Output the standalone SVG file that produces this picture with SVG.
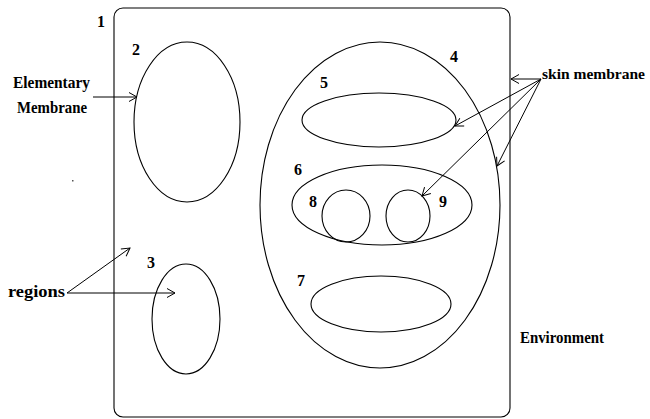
<svg xmlns="http://www.w3.org/2000/svg" width="650" height="419" viewBox="0 0 650 419">
<defs>
<style>
.s{fill:none;stroke:#000;stroke-width:1.1}
.t{font-family:'Liberation Serif','Times New Roman',Times,serif;font-weight:bold;font-size:17px;fill:#000}
.d{font-size:16px}
.c{fill:none;stroke:#000;stroke-width:1}
</style>
<marker id="a" markerUnits="userSpaceOnUse" markerWidth="14" markerHeight="14" refX="10" refY="7" orient="auto">
<polyline points="2,2.5 10,7 2,11.5" fill="none" stroke="#000" stroke-width="1"/>
</marker>
</defs>
<rect width="650" height="419" fill="#fff"/>
<g id="n1"><rect class="s" x="114" y="8" width="396" height="409" rx="9" ry="9"/><text class="t d" x="97" y="27">1</text></g>
<g id="n2"><ellipse class="s" cx="187" cy="122" rx="53" ry="80"/><text class="t d" x="132" y="55">2</text></g>
<g id="n3"><ellipse class="s" cx="186" cy="319" rx="34" ry="55"/><text class="t d" x="147" y="268">3</text></g>
<g id="n4"><ellipse class="s" cx="380" cy="205" rx="120" ry="163"/><text class="t d" x="450" y="62">4</text></g>
<g id="n5"><ellipse class="s" cx="379" cy="120" rx="77" ry="27"/><text class="t d" x="320" y="88">5</text></g>
<g id="n6"><ellipse class="s" cx="382" cy="205" rx="90" ry="40"/><text class="t d" x="294" y="175">6</text></g>
<g id="n7"><ellipse class="s" cx="381" cy="304" rx="70" ry="28"/><text class="t d" x="297" y="286">7</text></g>
<g id="n8"><ellipse class="s" cx="346" cy="216" rx="24" ry="26"/><text class="t d" x="309" y="207">8</text></g>
<g id="n9"><ellipse class="s" cx="408" cy="216" rx="22" ry="26"/><text class="t d" x="439" y="207">9</text></g>
<g id="labels">
<text class="t" x="13" y="88" textLength="77" lengthAdjust="spacingAndGlyphs">Elementary</text>
<text class="t" x="17" y="113" textLength="70" lengthAdjust="spacingAndGlyphs">Membrane</text>
<text class="t" x="8" y="297" textLength="57" lengthAdjust="spacingAndGlyphs">regions</text>
<text class="t" x="542" y="79" font-size="15.5" textLength="103" lengthAdjust="spacingAndGlyphs" style="font-size:15.5px">skin membrane</text>
<text class="t" x="520" y="343" textLength="84" lengthAdjust="spacingAndGlyphs">Environment</text>
<rect x="72" y="180" width="1.5" height="1.5" fill="#555"/>
</g>
<g id="connectors">
<line class="c" x1="93" y1="97" x2="137" y2="97" marker-end="url(#a)"/>
<line class="c" x1="67" y1="293" x2="175" y2="293" marker-end="url(#a)"/>
<line class="c" x1="67" y1="293" x2="130" y2="248" marker-end="url(#a)"/>
<line class="c" x1="541" y1="79" x2="511" y2="79" marker-end="url(#a)"/>
<line class="c" x1="541" y1="79" x2="455" y2="126" marker-end="url(#a)"/>
<line class="c" x1="541" y1="79" x2="422" y2="196" marker-end="url(#a)"/>
<line class="c" x1="541" y1="79" x2="497" y2="166" marker-end="url(#a)"/>
</g>
</svg>
